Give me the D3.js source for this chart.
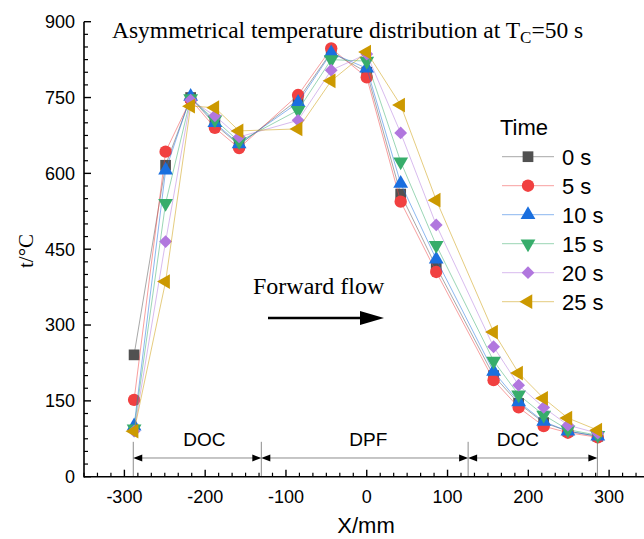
<!DOCTYPE html>
<html>
<head>
<meta charset="utf-8">
<script src="https://cdn.jsdelivr.net/npm/d3@7"></script>
<style>
  html, body { margin: 0; padding: 0; background: #fff; }
  svg { display: block; }
  .sans { font-family: "Liberation Sans", Arial, sans-serif; }
  .serif { font-family: "Liberation Serif", "Times New Roman", serif; }
</style>
</head>
<body>
<div id="chart"></div>
<script>
(function () {
    "use strict";

    // positions along the exhaust line, mm
    const positions = [-288, -249, -218, -188, -158, -85, -44, 0, 42, 86, 157, 188, 219, 249, 286];

    const seriesNames = ["0 s", "5 s", "10 s", "15 s", "20 s", "25 s"];

    const temp0 = [241, 616, 750, 697, 656, 746, 840, 800, 559, 415, 200, 145, 107, 90, 80];
    const temp5 = [152, 643, 746, 690, 650, 755, 847, 790, 544, 405, 191, 137, 100, 87, 78];
    const temp10 = [100, 606, 752, 700, 658, 740, 838, 808, 580, 430, 208, 148, 109, 90, 80];
    const temp15 = [95, 541, 748, 706, 663, 725, 825, 822, 623, 458, 229, 162, 122, 93, 82];
    const temp20 = [90, 465, 745, 714, 672, 705, 804, 836, 680, 498, 257, 181, 137, 102, 86];
    const temp25 = [90, 386, 733, 730, 684, 688, 783, 840, 735, 547, 286, 205, 155, 116, 92];

    const temps = [temp0, temp5, temp10, temp15, temp20, temp25];

    // catalyst zones: boundaries in mm and their labels
    const zoneEdges = [-289, -130.5, 125.5, 285.5];
    const zoneNames = ["DOC", "DPF", "DOC"];
    const zoneLabelX = [-201, 2, 187];

    const xTicks = [-300, -200, -100, 0, 100, 200, 300];
    const yTicks = [0, 150, 300, 450, 600, 750, 900];

    const colors = ["#515151", "#F14040", "#1A6FDF", "#37AD6B", "#B177DE", "#CC9900"];
    const shapes = [
        { type: d3.symbolSquare, size: 115, rotate: 0 },
        { type: d3.symbolCircle, size: 120, rotate: 0 },
        { type: d3.symbolTriangle, size: 95, rotate: 0 },
        { type: d3.symbolTriangle, size: 95, rotate: 180 },
        { type: d3.symbolSquare, size: 82, rotate: 45 },
        { type: d3.symbolTriangle, size: 95, rotate: -90 }
    ];

    const width = 644;
    const height = 539;

    const x = d3.scaleLinear().domain([-350, 350]).range([84, 649.5]);
    const y = d3.scaleLinear().domain([0, 900]).range([476.7, 21.7]);

    const svg = d3.select("#chart").append("svg")
        .attr("width", width)
        .attr("height", height)
        .attr("viewBox", `0 0 ${width} ${height}`);

    // zone markers along the bottom
    const zoneG = svg.append("g");
    zoneG.selectAll("line.edge")
        .data(zoneEdges)
        .join("line")
        .attr("x1", (d) => x(d)).attr("x2", (d) => x(d))
        .attr("y1", y(0)).attr("y2", y(69))
        .attr("stroke", "#8c8c8c").attr("stroke-width", 1);

    const arrowY = y(37);
    const head = 9;
    zoneNames.forEach((name, i) => {
        const a = x(zoneEdges[i]);
        const b = x(zoneEdges[i + 1]);
        zoneG.append("line")
            .attr("x1", a + 2).attr("x2", b - 2)
            .attr("y1", arrowY).attr("y2", arrowY)
            .attr("stroke", "#8c8c8c").attr("stroke-width", 1);
        zoneG.append("path")
            .attr("d", `M${a},${arrowY}L${a + head},${arrowY - 3.5}L${a + head},${arrowY + 3.5}Z`)
            .attr("fill", "#000");
        zoneG.append("path")
            .attr("d", `M${b},${arrowY}L${b - head},${arrowY - 3.5}L${b - head},${arrowY + 3.5}Z`)
            .attr("fill", "#000");
        zoneG.append("text")
            .attr("class", "sans")
            .attr("x", x(zoneLabelX[i]))
            .attr("y", y(60))
            .attr("text-anchor", "middle")
            .attr("font-size", 19)
            .text(name);
    });

    // series
    const line = d3.line()
        .x((d) => x(d[0]))
        .y((d) => y(d[1]));

    temps.forEach((vals, i) => {
        const pts = positions.map((p, j) => [p, vals[j]]);
        const g = svg.append("g");
        g.append("path")
            .datum(pts)
            .attr("d", line)
            .attr("fill", "none")
            .attr("stroke", colors[i])
            .attr("stroke-opacity", 0.5)
            .attr("stroke-width", 1);
        const sym = d3.symbol().type(shapes[i].type).size(shapes[i].size);
        g.selectAll("path.mark")
            .data(pts)
            .join("path")
            .attr("class", "mark")
            .attr("d", sym)
            .attr("transform", (d) => `translate(${x(d[0])},${y(d[1])}) rotate(${shapes[i].rotate})`)
            .attr("fill", colors[i]);
    });

    // axes
    const axisG = svg.append("g").attr("stroke", "#000");
    const minorX = d3.range(-350, 351, 100 / 6).filter((v) => xTicks.every((t) => Math.abs(t - v) > 1));
    const minorY = d3.range(0, 901, 25).filter((v) => v % 150 !== 0);

    axisG.append("line")
        .attr("x1", x(-350)).attr("x2", width + 5)
        .attr("y1", y(0)).attr("y2", y(0))
        .attr("stroke-width", 1.6);
    axisG.append("line")
        .attr("x1", x(-350)).attr("x2", x(-350))
        .attr("y1", y(0) + 0.8).attr("y2", y(900))
        .attr("stroke-width", 1.6);

    axisG.selectAll("line.xmaj").data(xTicks).join("line")
        .attr("x1", (d) => x(d)).attr("x2", (d) => x(d))
        .attr("y1", y(0)).attr("y2", y(0) - 7)
        .attr("stroke-width", 1.4);
    axisG.selectAll("line.xmin").data(minorX).join("line")
        .attr("x1", (d) => x(d)).attr("x2", (d) => x(d))
        .attr("y1", y(0)).attr("y2", y(0) - 4)
        .attr("stroke-width", 1.2);
    axisG.selectAll("line.ymaj").data(yTicks).join("line")
        .attr("x1", x(-350)).attr("x2", x(-350) + 7)
        .attr("y1", (d) => y(d)).attr("y2", (d) => y(d))
        .attr("stroke-width", 1.4);
    axisG.selectAll("line.ymin").data(minorY).join("line")
        .attr("x1", x(-350)).attr("x2", x(-350) + 4)
        .attr("y1", (d) => y(d)).attr("y2", (d) => y(d))
        .attr("stroke-width", 1.2);

    svg.append("g").selectAll("text").data(xTicks).join("text")
        .attr("class", "sans")
        .attr("x", (d) => x(d))
        .attr("y", y(0) + 26)
        .attr("text-anchor", "middle")
        .attr("font-size", 18)
        .text((d) => d);

    svg.append("g").selectAll("text").data(yTicks).join("text")
        .attr("class", "sans")
        .attr("x", x(-350) - 9)
        .attr("y", (d) => y(d) + 6.3)
        .attr("text-anchor", "end")
        .attr("font-size", 18)
        .text((d) => d);

    svg.append("text")
        .attr("class", "sans")
        .attr("x", 366)
        .attr("y", 533)
        .attr("text-anchor", "middle")
        .attr("font-size", 22)
        .text("X/mm");

    svg.append("text")
        .attr("class", "serif")
        .attr("transform", "translate(33,251) rotate(-90)")
        .attr("text-anchor", "middle")
        .attr("font-size", 21)
        .text("t/°C");

    // title
    const title = svg.append("text")
        .attr("class", "serif")
        .attr("x", 112)
        .attr("y", 38)
        .attr("font-size", 23.5);
    title.append("tspan").text("Asymmetrical temperature distribution at T");
    title.append("tspan").attr("dy", 5).attr("font-size", 17).text("C");
    title.append("tspan").attr("dy", -5).text("=50 s");

    // flow annotation
    svg.append("text")
        .attr("class", "serif")
        .attr("x", 253)
        .attr("y", 294)
        .attr("font-size", 24)
        .text("Forward flow");
    svg.append("line")
        .attr("x1", 268).attr("x2", 364)
        .attr("y1", 318).attr("y2", 318)
        .attr("stroke", "#000").attr("stroke-width", 2.5);
    svg.append("path")
        .attr("d", "M384,318L360,311L360,325Z")
        .attr("fill", "#000");

    // legend
    const legend = svg.append("g").attr("class", "sans");
    legend.append("text")
        .attr("x", 500).attr("y", 135)
        .attr("font-size", 22)
        .text("Time");
    seriesNames.forEach((name, i) => {
        const cy = 156.7 + i * 29;
        legend.append("line")
            .attr("x1", 502).attr("x2", 554)
            .attr("y1", cy).attr("y2", cy)
            .attr("stroke", colors[i]).attr("stroke-opacity", 0.5);
        legend.append("path")
            .attr("d", d3.symbol().type(shapes[i].type).size(shapes[i].size))
            .attr("transform", `translate(528,${cy}) rotate(${shapes[i].rotate})`)
            .attr("fill", colors[i]);
        legend.append("text")
            .attr("x", 562).attr("y", cy + 8)
            .attr("font-size", 22)
            .text(name);
    });
}());
</script>
</body>
</html>
